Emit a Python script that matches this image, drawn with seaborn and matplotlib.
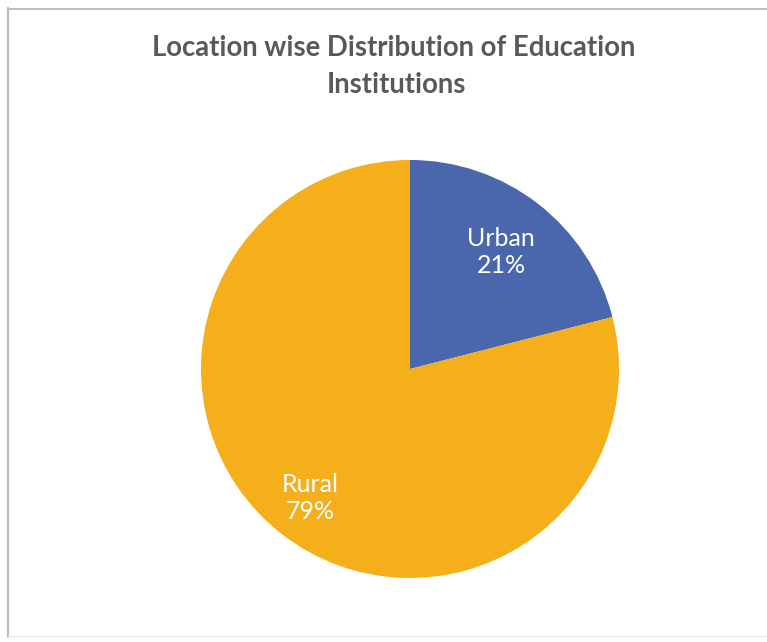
import numpy as np
import matplotlib
matplotlib.use("Agg")
import matplotlib.pyplot as plt
from matplotlib.lines import Line2D
import seaborn as sns

# Share of education institutions by location
locations = ["Urban", "Rural"]
shares = [21, 79]
slice_colors = ["#4A66AC", "#F4AF1B"]

sns.set_theme(style="white")
plt.rcParams["font.family"] = ["Lato", "DejaVu Sans"]

W, H = 767, 642
fig = plt.figure(figsize=(W / 100, H / 100), dpi=100)
fig.patch.set_facecolor("white")

# Pie axes: centre (410, 369) px, radius 209 px
cx, cy, r = 410, 369, 209
ax = fig.add_axes([(cx - r) / W, (H - cy - r) / H, 2 * r / W, 2 * r / H])
wedges, _ = ax.pie(shares, colors=slice_colors, startangle=90, counterclock=False,
                   radius=1, wedgeprops=dict(linewidth=0))
ax.set_xlim(-1, 1)
ax.set_ylim(-1, 1)
ax.set_aspect("equal")
ax.axis("off")

# Data labels inside each slice
label_radius = [0.71, 0.78]
for w, name, val, lr in zip(wedges, locations, shares, label_radius):
    mid = np.deg2rad((w.theta1 + w.theta2) / 2)
    ax.text(lr * np.cos(mid), lr * np.sin(mid), f"{name}\n{val}%",
            ha="center", va="center", color="white", fontsize=18,
            linespacing=1.2)

# Title
title_kw = dict(ha="center", va="center", fontsize=19.8, fontweight="bold", color="#595959")
fig.text(394 / W, 1 - 48 / H, "Location wise Distribution of Education", **title_kw)
fig.text(396 / W, 1 - 85 / H, "Institutions", **title_kw)

# Chart frame
fig.add_artist(Line2D([8 / W, 8 / W], [1 - 8 / H, 1 - 637 / H], color="#BDBDBD", lw=1.6))
fig.add_artist(Line2D([8 / W, 1], [1 - 8.5 / H, 1 - 8.5 / H], color="#BDBDBD", lw=1.4))
fig.add_artist(Line2D([8 / W, 1], [1 - 636 / H, 1 - 636 / H], color="#EBEBEB", lw=1.0))

fig.savefig("out.png", dpi=100, facecolor="white")
